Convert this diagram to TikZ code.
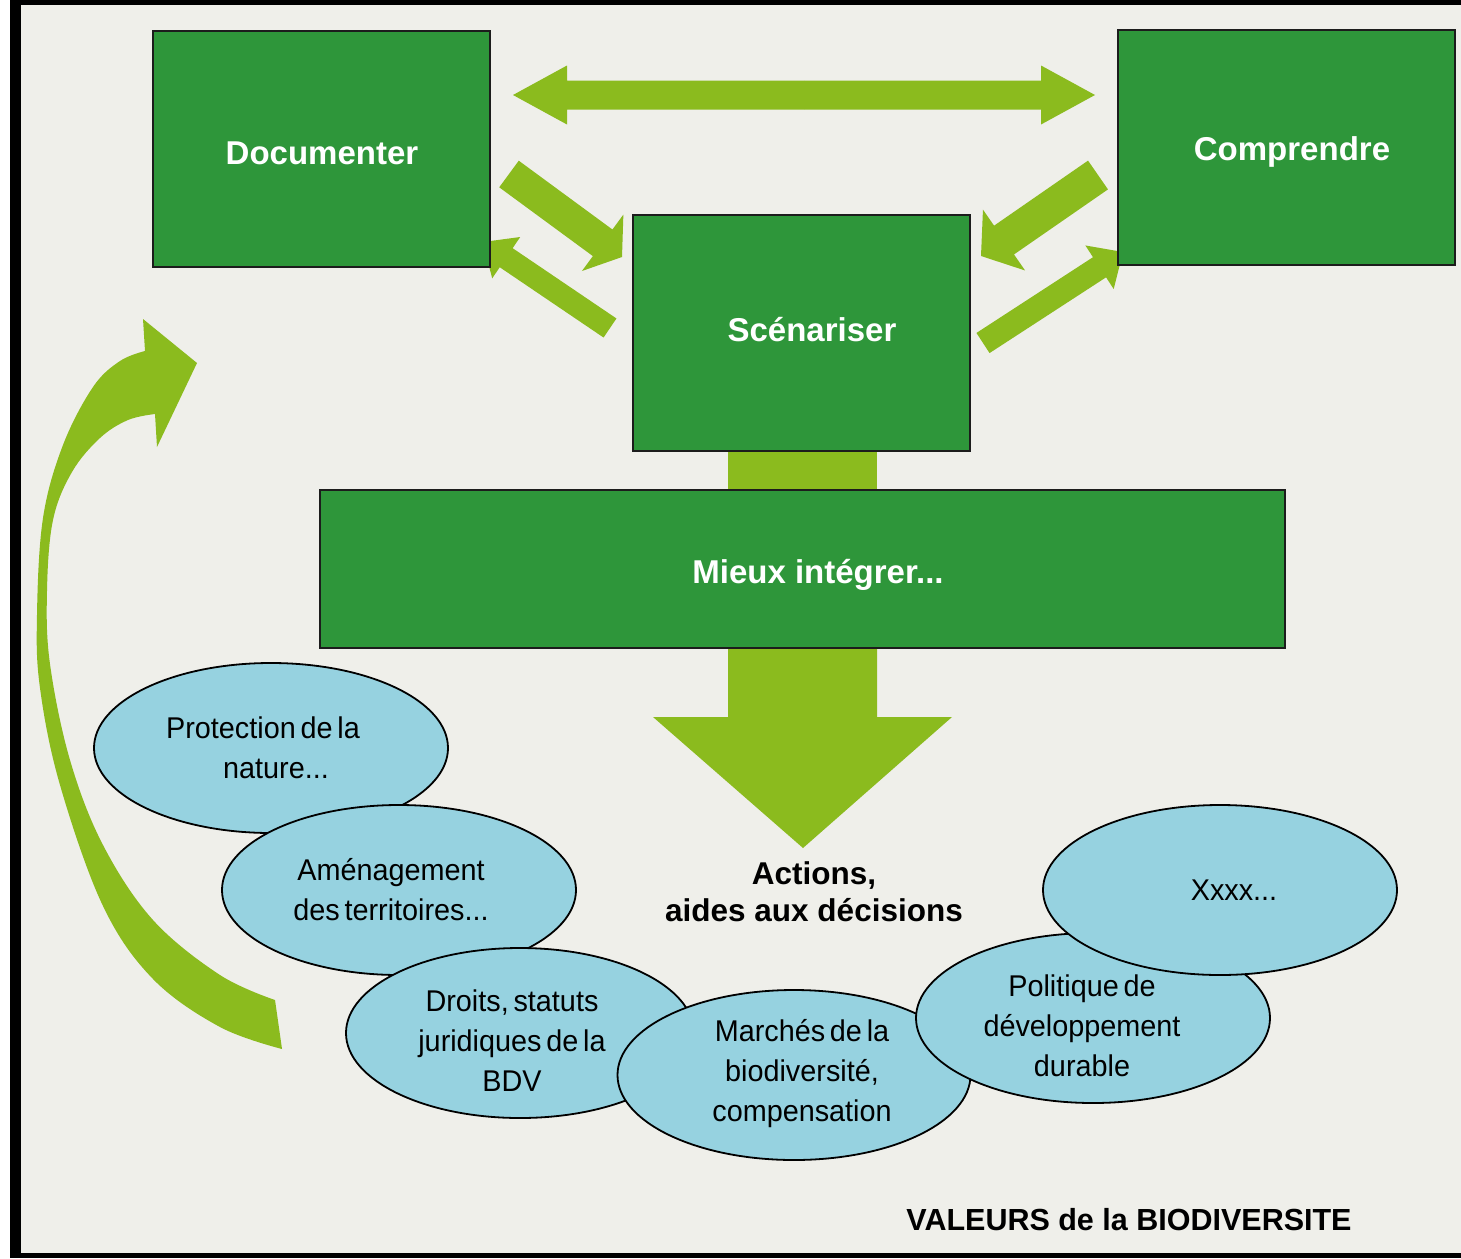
\documentclass[tikz,border=0pt]{standalone}
\usepackage{fontspec}
\setmainfont{Liberation Sans}
\newfontfamily\condfont[FakeStretch=0.96,WordSpace=0.6]{Liberation Sans}
\usetikzlibrary{calc,shapes.geometric}
\definecolor{bg}{RGB}{239,239,234}
\definecolor{boxgreen}{RGB}{46,150,58}
\definecolor{argreen}{RGB}{139,187,30}
\definecolor{elblue}{RGB}{150,210,224}
\definecolor{boxedge}{RGB}{28,28,28}
\newcommand{\myblockarrow}[5]{%
  \path ($(#2)!#5!(#1)$) coordinate (hb);
  \fill[argreen] ($(#1)!#3!90:(#2)$) -- ($(hb)!#3!90:(#2)$) -- ($(hb)!#4!90:(#2)$) -- (#2)
    -- ($(hb)!#4!-90:(#2)$) -- ($(hb)!#3!-90:(#2)$) -- ($(#1)!#3!-90:(#2)$) -- cycle;}
\tikzset{
  gbox/.style={draw=boxedge, line width=2.5pt, fill=boxgreen, inner sep=0pt},
  boxtext/.style={text=white, font=\bfseries\fontsize{33}{40}\selectfont, inner sep=0pt},
  ell/.style={ellipse, draw=black, line width=1.8pt, fill=elblue, inner sep=0pt,
    minimum width=354pt, minimum height=170pt},
  eltext/.style={align=center, font=\condfont\fontsize{30}{40}\selectfont, inner sep=0pt},
  bigtext/.style={align=center, font=\bfseries\fontsize{31.5}{37}\selectfont, inner sep=0pt}
}
\begin{document}
\begin{tikzpicture}[x=1pt,y=-1pt]
\useasboundingbox (0,0) rectangle (1461,1258);
% frame
\fill[white] (0,0) rectangle (1461,1258);
\fill[black] (10,0) rectangle (1461,1258);
\fill[bg] (21,5) rectangle (1461,1253);

% arrows between top boxes
\coordinate (hc) at (804,95);
\coordinate (hl) at (513,95);
\coordinate (hr) at (1095,95);
\myblockarrow{hc}{hl}{14.5pt}{29.5pt}{54pt}
\myblockarrow{hc}{hr}{14.5pt}{29.5pt}{54pt}
\coordinate (a2s) at (509,174); \coordinate (a2e) at (622,257);
\myblockarrow{a2s}{a2e}{16.5pt}{35pt}{24pt}
\coordinate (a3s) at (610,328); \coordinate (a3e) at (483,242);
\myblockarrow{a3s}{a3e}{11.5pt}{25pt}{28pt}
\coordinate (a4s) at (1098,175); \coordinate (a4e) at (981,256);
\myblockarrow{a4s}{a4e}{17.5pt}{37pt}{28pt}
\coordinate (a5s) at (983,343); \coordinate (a5e) at (1123,252);
\myblockarrow{a5s}{a5e}{12pt}{26pt}{28pt}

% link bar and down arrow
\fill[argreen] (728,445) rectangle (877,496);
\fill[argreen] (728,640) -- (877,640) -- (877,717) -- (952,717) -- (803,848)
  -- (653,717) -- (728,717) -- cycle;

% curved arrow
\fill[argreen] plot[smooth,tension=0.6] coordinates {(275,1000) (220,975) (153,920) (103,845)
   (70,760) (50,664) (47,591) (53,520) (72,472) (100,438) (128,420) (155,414)}
  -- (157,447) -- (197,363) -- (143,319)
  -- plot[smooth,tension=0.6] coordinates {(145,351) (120,361) (93,387) (63,445) (43,518)
   (37,615) (40,688) (60,785) (103,906) (153,979) (220,1027) (282,1049)} -- cycle;

% boxes
\node[gbox, minimum width=337pt, minimum height=236pt] (doc) at (321.5,149) {};
\node[gbox, minimum width=337pt, minimum height=235pt] (comp) at (1286.5,147.5) {};
\node[gbox, minimum width=337pt, minimum height=236pt] (scen) at (801.5,333) {};
\node[gbox, minimum width=965pt, minimum height=158pt] (mieux) at (802.5,569) {};
\node[boxtext] (docT) at (322,153) {Documenter};
\node[boxtext] (compT) at (1292,152) {Comprendre};
\node[boxtext] (scenT) at (812,330) {Scénariser};
\node[boxtext] (mieuxT) at (818,575) {Mieux intégrer...};

% ellipses
\node[ell] (prot) at (271,748) {};
\node[eltext] (protT) at (263,748) {Protection de la\\\hspace*{26pt}nature...};
\node[ell] (amen) at (399,890) {};
\node[eltext] (amenT) at (391,890) {Aménagement\\des territoires...};
\node[ell, minimum width=348pt] (droit) at (520,1033) {};
\node[eltext] (droitT) at (512,1041) {Droits, statuts\\juridiques de la\\BDV};
\node[ell, minimum width=353pt] (march) at (794,1075) {};
\node[eltext] (marchT) at (802,1074) {Marchés de la\\biodiversité,\\compensation};
\node[ell] (polit) at (1093,1018) {};
\node[eltext] (politT) at (1082,1026) {Politique de\\développement\\durable};
\node[ell] (xxxx) at (1220,890) {};
\node[eltext] (xxxxT) at (1234,890) {Xxxx...};

% texts
\node[bigtext] (actions) at (814,892) {Actions,\\aides aux décisions};
\node[font=\bfseries\fontsize{30.5}{36}\selectfont, inner sep=0pt] (valeurs) at (1129,1220)
  {VALEURS de la BIODIVERSITE};
\end{tikzpicture}
\end{document}
